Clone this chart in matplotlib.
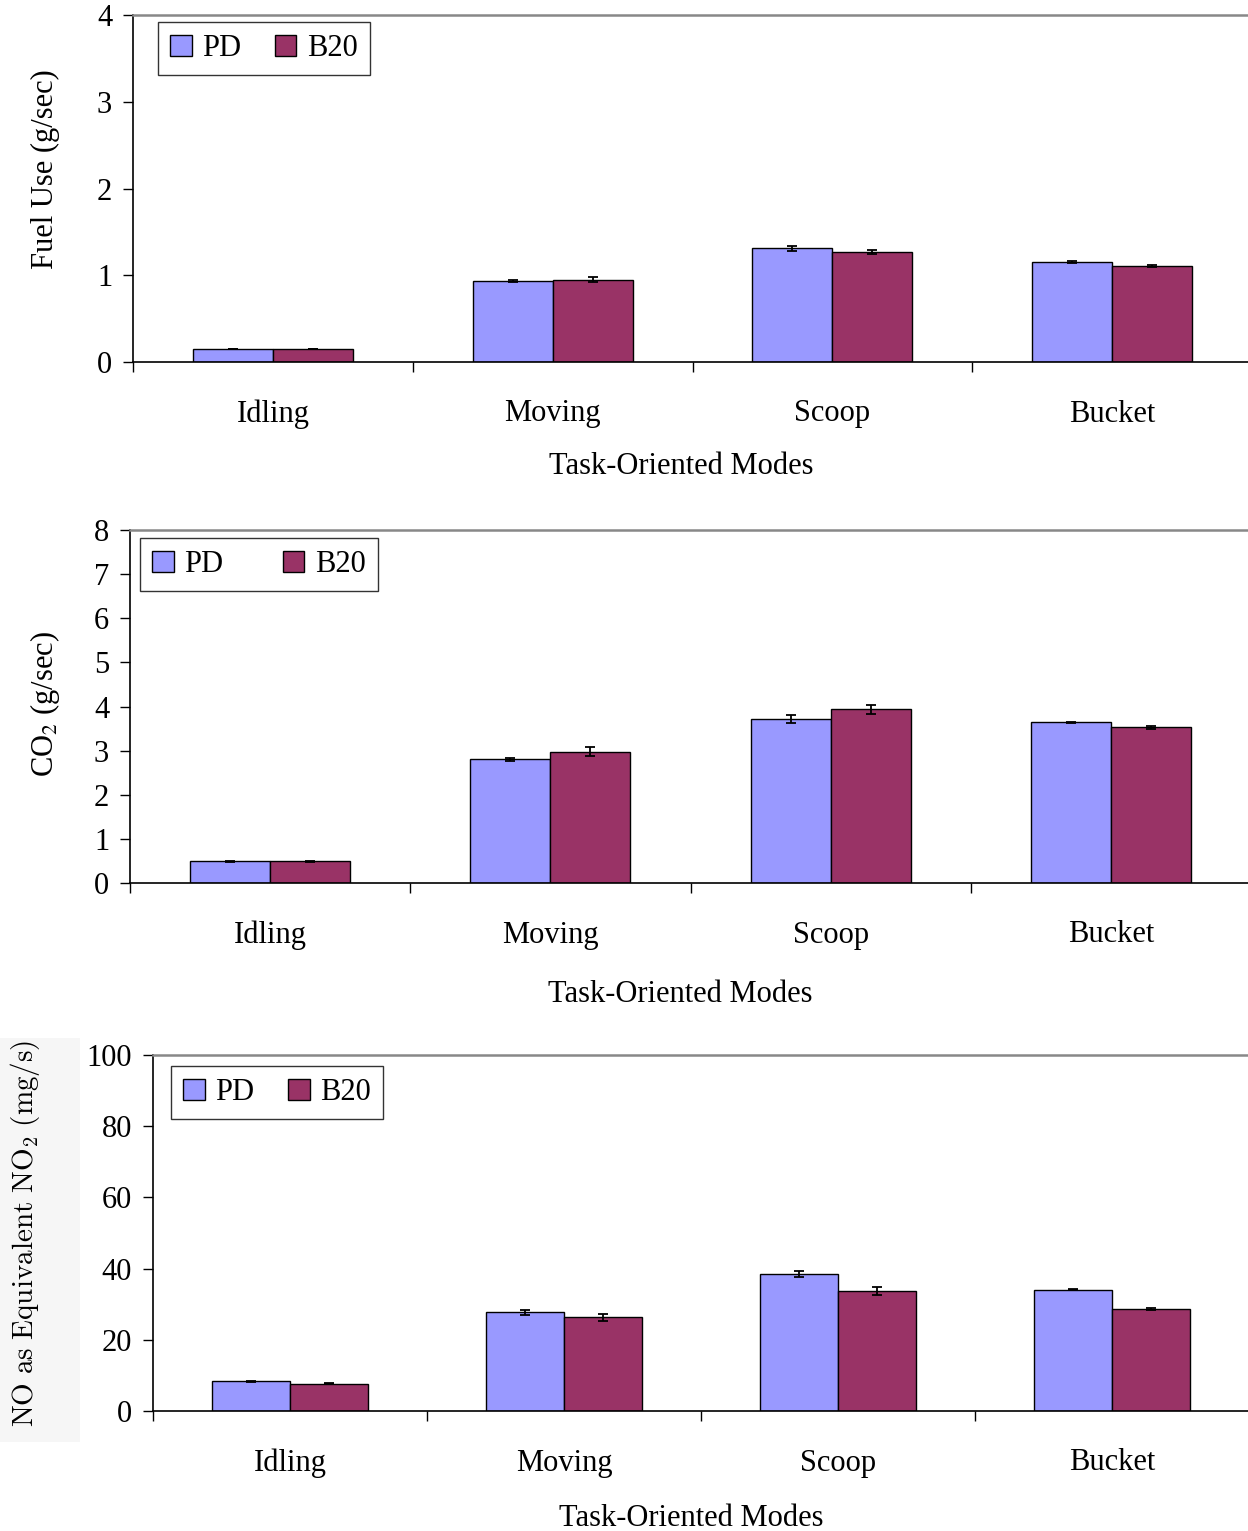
import numpy as np
import matplotlib
matplotlib.use('Agg')
import matplotlib.pyplot as plt
from matplotlib.patches import Rectangle

plt.rcParams['font.family'] = ['Liberation Serif', 'DejaVu Serif']

modes = ['Idling', 'Moving', 'Scoop', 'Bucket']
series = ['PD', 'B20']
colors = ['#9999FF', '#993366']

fuel_pd = [0.15, 0.93, 1.31, 1.15]
fuel_b20 = [0.15, 0.95, 1.27, 1.11]
fuel_pd_err = [0.005, 0.01, 0.027, 0.01]
fuel_b20_err = [0.005, 0.025, 0.025, 0.01]

co2_pd = [0.49, 2.80, 3.71, 3.64]
co2_b20 = [0.49, 2.98, 3.94, 3.53]
co2_pd_err = [0.01, 0.04, 0.087, 0.01]
co2_b20_err = [0.01, 0.095, 0.10, 0.03]

no2_pd = [8.3, 27.7, 38.6, 34.1]
no2_b20 = [7.7, 26.3, 33.6, 28.6]
no2_pd_err = [0.2, 0.6, 0.85, 0.1]
no2_b20_err = [0.2, 0.9, 1.1, 0.2]

W, H = 1248, 1531
fig = plt.figure(figsize=(W / 100, H / 100), dpi=100)

# faint backdrop behind the third y label
fig.patches.append(Rectangle((0, 1 - 1442 / H), 80 / W, 404 / H, transform=fig.transFigure,
                             facecolor='#f6f6f6', edgecolor='none', zorder=-1))

# pixel boxes: left, right, top, bottom
panels = [
    dict(box=(133, 1252, 15, 362), pd=fuel_pd, b20=fuel_b20, pde=fuel_pd_err, b20e=fuel_b20_err,
         ymax=4, step=1, ylabel='Fuel Use (g/sec)', lab_xy=(60, 169), xlab=(681, 105),
         leg=(158, 22), colsp=1.1),
    dict(box=(130, 1251, 530, 883), pd=co2_pd, b20=co2_b20, pde=co2_pd_err, b20e=co2_b20_err,
         ymax=8, step=1, ylabel='CO$_2$ (g/sec)', lab_xy=(62, 704), xlab=(680, 112),
         leg=(140, 538), colsp=1.95),
    dict(box=(153, 1249, 1055, 1411), pd=no2_pd, b20=no2_b20, pde=no2_pd_err, b20e=no2_b20_err,
         ymax=100, step=20, ylabel=r'$\mathrm{NO\ as\ Equivalent\ NO_2\ (mg/s)}$', lab_xy=(42, 1233),
         xlab=(691, 107), leg=(171, 1066), colsp=1.11),
]

bw = 1 / 3.5
x = np.arange(len(modes)) + 0.5
fs = 22

for i, p in enumerate(panels):
    l, r, t, b = p['box']
    ax = fig.add_axes([l / W, 1 - b / H, (r - l) / W, (b - t) / H])
    ax.bar(x - bw / 2, p['pd'], bw, color=colors[0], edgecolor='black', linewidth=1,
           yerr=p['pde'], capsize=3.5, error_kw=dict(elinewidth=1.3, capthick=1.3, ecolor='black'),
           label=series[0], zorder=2)
    ax.bar(x + bw / 2, p['b20'], bw, color=colors[1], edgecolor='black', linewidth=1,
           yerr=p['b20e'], capsize=3.5, error_kw=dict(elinewidth=1.3, capthick=1.3, ecolor='black'),
           label=series[1], zorder=2)
    ax.set_xlim(0, len(modes))
    ax.set_ylim(0, p['ymax'])
    ax.set_yticks(np.arange(0, p['ymax'] + p['step'] / 2, p['step']))
    ax.set_xticks(np.arange(len(modes) + 1))
    ax.set_xticklabels([])
    ax.set_xticks(x, minor=True)
    ax.set_xticklabels(modes, minor=True)
    ax.tick_params(axis='x', which='minor', length=0, pad=27, labelsize=fs)
    ax.tick_params(axis='x', which='major', length=7, width=1, direction='out')
    ax.tick_params(axis='y', length=7, width=1, direction='out', labelsize=fs, pad=8)
    for s in ['top', 'right']:
        ax.spines[s].set_color('#888888')
        ax.spines[s].set_linewidth(1.8)
    for s in ['left', 'bottom']:
        ax.spines[s].set_color('black')
        ax.spines[s].set_linewidth(1.2)
    ax.set_xlabel('Task-Oriented Modes', fontsize=fs, va='center')
    xlx, xly = p['xlab']
    ax.xaxis.set_label_coords((xlx - l) / (r - l), -(xly / (b - t)))
    lx, ly = p['lab_xy']
    if i == 2:
        ax.set_ylabel(p['ylabel'], fontsize=21, math_fontfamily='cm')
    else:
        ax.set_ylabel(p['ylabel'], fontsize=fs, math_fontfamily='stix')
    ax.yaxis.set_label_coords((lx - l) / (r - l), (b - ly) / (b - t))
    lgx, lgy = p['leg']
    leg = ax.legend(loc='upper left', bbox_to_anchor=((lgx - l) / (r - l), (b - lgy) / (b - t)),
                    ncol=2, fontsize=fs, frameon=True, fancybox=False, borderaxespad=0,
                    handlelength=0.7, handleheight=0.7, handletextpad=0.35, columnspacing=p['colsp'],
                    borderpad=0.4)
    leg.get_frame().set_edgecolor('black')
    leg.get_frame().set_linewidth(1)

fig.savefig('out.png', dpi=100)
